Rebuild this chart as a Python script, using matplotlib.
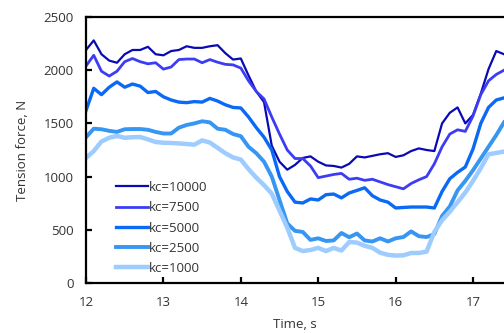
import numpy as np
import matplotlib
matplotlib.use('Agg')
import matplotlib.pyplot as plt

plt.rcParams['font.family'] = ['Open Sans', 'DejaVu Sans']

# time axis, seconds
time = np.round(np.arange(12.0, 17.41, 0.1), 1)

kc_10000 = [2190, 2280, 2150, 2090, 2070, 2150, 2190, 2190, 2220, 2150,
            2140, 2180, 2190, 2225, 2210, 2210, 2225, 2235, 2160, 2100,
            2110, 1950, 1800, 1700, 1290, 1140, 1065, 1110, 1175, 1190,
            1140, 1105, 1100, 1085, 1120, 1190, 1180, 1195, 1210, 1220,
            1185, 1200, 1240, 1265, 1250, 1240, 1500, 1600, 1650, 1500,
            1580, 1780, 2010, 2180, 2150]

kc_7500 = [2040, 2140, 1990, 1945, 1990, 2080, 2110, 2080, 2060, 2070,
           2010, 2030, 2100, 2105, 2105, 2070, 2100, 2075, 2055, 2050,
           2020, 1900, 1800, 1730, 1560, 1400, 1250, 1170, 1170, 1100,
           990, 1005, 1020, 1030, 975, 985, 965, 975, 950, 925,
           905, 885, 935, 970, 1000, 1120, 1280, 1400, 1440, 1425,
           1570, 1770, 1900, 1960, 2000]

kc_5000 = [1620, 1830, 1770, 1840, 1890, 1840, 1870, 1850, 1790, 1800,
           1750, 1720, 1700, 1695, 1705, 1700, 1735, 1710, 1675, 1650,
           1645, 1560, 1460, 1370, 1250, 1000, 860, 760, 752, 790,
           780, 830, 836, 800, 846, 870, 895, 820, 780, 760,
           705, 710, 714, 714, 714, 705, 860, 980, 1040, 1090,
           1260, 1500, 1650, 1720, 1740]

kc_2500 = [1370, 1450, 1445, 1430, 1420, 1445, 1447, 1447, 1440, 1420,
           1405, 1405, 1460, 1485, 1500, 1520, 1510, 1450, 1440, 1400,
           1380, 1280, 1220, 1140, 1000, 780, 560, 490, 480, 405,
           420, 395, 400, 470, 430, 465, 400, 390, 420, 390,
           420, 432, 485, 440, 432, 460, 630, 720, 870, 960,
           1060, 1170, 1280, 1390, 1510]

kc_1000 = [1175, 1240, 1330, 1365, 1382, 1365, 1370, 1372, 1350, 1325,
           1318, 1316, 1312, 1306, 1300, 1340, 1320, 1270, 1220, 1180,
           1160, 1070, 990, 920, 840, 680, 520, 330, 300, 310,
           330, 300, 330, 305, 385, 380, 350, 330, 285, 265,
           258, 260, 282, 282, 295, 480, 590, 670, 760, 850,
           960, 1080, 1210, 1222, 1235]

labels = ['kc=10000', 'kc=7500', 'kc=5000', 'kc=2500', 'kc=1000']
colors = ['#0A0AB4', '#3C3CF5', '#0A6AF5', '#3796F2', '#9ECCFF']
widths = [1.6, 2.0, 2.4, 2.8, 3.2]

fig = plt.figure(figsize=(5.04, 3.33), dpi=100)
ax = fig.add_axes([86 / 504, 50 / 333, 1 - 86 / 504, 266 / 333])

for series, lab, col, lw in zip([kc_10000, kc_7500, kc_5000, kc_2500, kc_1000],
                                labels, colors, widths):
    ax.plot(time, series, color=col, lw=lw, label=lab, solid_joinstyle='round')

ax.set_xlim(12, 17.4)
ax.set_ylim(0, 2500)
ax.set_xticks([12, 13, 14, 15, 16, 17])
ax.set_yticks([0, 500, 1000, 1500, 2000, 2500])

for side in ['left', 'bottom', 'top']:
    ax.spines[side].set_linewidth(1.6)
ax.spines['right'].set_visible(False)

ax.tick_params(direction='in', length=4, width=1.6, labelsize=9.5,
               labelcolor='#333333', pad=9)

ax.set_xlabel('Time, s', fontsize=9.5, color='#333333', labelpad=7)
ax.set_ylabel('Tension force, N', fontsize=9.5, color='#333333', labelpad=10)

leg = ax.legend(loc='upper left', bbox_to_anchor=(116 / 504, 1 - 181 / 333),
                bbox_transform=fig.transFigure, frameon=False, fontsize=9.5,
                borderpad=0, borderaxespad=0, handlelength=2.4,
                handletextpad=0.1, labelspacing=0.55)
for t in leg.get_texts():
    t.set_color('#333333')

fig.savefig('out.png', dpi=100)
